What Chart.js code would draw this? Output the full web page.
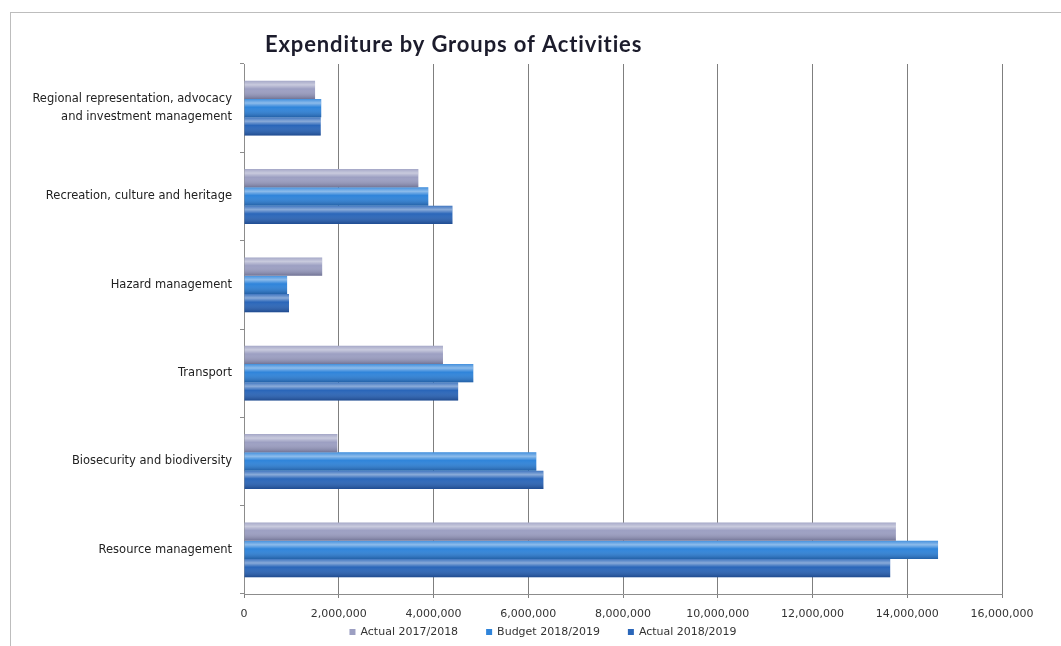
<!DOCTYPE html>
<html>
<head>
<meta charset="utf-8">
<script src="https://cdn.jsdelivr.net/npm/chart.js@4.4.1/dist/chart.umd.min.js"></script>
<style>
  html, body { margin: 0; padding: 0; background: #fff; }
  #wrap { position: relative; width: 1061px; height: 646px; overflow: hidden; }
  #frame { position: absolute; left: 10px; top: 12px; width: 1100px; height: 700px;
           border-top: 1px solid #bdbdbd; border-left: 1px solid #bdbdbd; }
  canvas { position: absolute; left: 0; top: 0; }
</style>
</head>
<body>
<div id="wrap">
  <div id="frame"></div>
  <canvas id="chart" width="1061" height="646"></canvas>
</div>
<script>
const title = 'Expenditure by Groups of Activities';

const categories = [
    ['Regional representation, advocacy', 'and investment management'],
    'Recreation, culture and heritage',
    'Hazard management',
    'Transport',
    'Biosecurity and biodiversity',
    'Resource management'
];

const seriesNames = ['Actual 2017/2018', 'Budget 2018/2019', 'Actual 2018/2019'];

const actual2017 = [1500000, 3680000, 1650000, 4200000, 1970000, 13760000];
const budget2018 = [1630000, 3890000, 910000, 4840000, 6170000, 14650000];
const actual2018 = [1620000, 4400000, 950000, 4520000, 6320000, 13640000];

const xTicks = [0, 2000000, 4000000, 6000000, 8000000, 10000000, 12000000, 14000000, 16000000];

const colors = ['#9c9fc2', '#2f84da', '#2a66b9'];

const FONT = '"DejaVu Sans", sans-serif';

// cylinder-ish shading on top of each bar, like the Excel 2007 style
const barShade = {
    id: 'barShade',
    afterDatasetsDraw(chart) {
        const ctx = chart.ctx;
        chart.data.datasets.forEach((ds, i) => {
            chart.getDatasetMeta(i).data.forEach(bar => {
                const h = bar.height;
                const top = bar.y - h / 2;
                const x0 = Math.min(bar.x, bar.base);
                const w = Math.abs(bar.x - bar.base);
                const g = ctx.createLinearGradient(0, top, 0, top + h);
                g.addColorStop(0, 'rgba(255,255,255,0.10)');
                g.addColorStop(0.22, 'rgba(255,255,255,0.45)');
                g.addColorStop(0.45, 'rgba(255,255,255,0.0)');
                g.addColorStop(1, 'rgba(0,0,30,0.28)');
                ctx.save();
                ctx.fillStyle = g;
                ctx.fillRect(x0, top, w, h);
                ctx.restore();
            });
        });
    }
};

// title sits over the left part of the plot, not centred on the canvas
const titleText = {
    id: 'titleText',
    afterDraw(chart) {
        const ctx = chart.ctx;
        ctx.save();
        ctx.font = 'bold 22px Lato, "Open Sans", sans-serif';
        const w = ctx.measureText(title).width;
        ctx.letterSpacing = Math.max(0, (378 - w) / title.length).toFixed(2) + 'px';
        ctx.fillStyle = '#1c1c2c';
        ctx.textAlign = 'left';
        ctx.textBaseline = 'middle';
        ctx.fillText(title, 265, 45);
        ctx.restore();
    }
};

// Excel-style legend row under the axis, wider spacing than the built-in one allows
const legendRow = {
    id: 'legendRow',
    afterDraw(chart) {
        const ctx = chart.ctx;
        const box = 6, gapText = 5, gapItem = 28, y = 632;
        ctx.save();
        ctx.font = '11px ' + FONT;
        ctx.textBaseline = 'middle';
        ctx.textAlign = 'left';
        const items = chart.data.datasets.map(ds => ({
            text: ds.label, color: ds.backgroundColor,
            w: box + gapText + ctx.measureText(ds.label).width
        }));
        const total = items.reduce((s, it) => s + it.w, 0) + gapItem * (items.length - 1);
        let x = 543 - total / 2;
        items.forEach(it => {
            ctx.fillStyle = it.color;
            ctx.fillRect(x, y - box / 2, box, box);
            ctx.fillStyle = '#333';
            ctx.fillText(it.text, x + box + gapText, y);
            x += it.w + gapItem;
        });
        ctx.restore();
    }
};

new Chart(document.getElementById('chart'), {
    type: 'bar',
    data: {
        labels: categories,
        datasets: [actual2017, budget2018, actual2018].map((d, i) => ({
            label: seriesNames[i],
            data: d,
            backgroundColor: colors[i],
            borderWidth: 0,
            categoryPercentage: 0.62,
            barPercentage: 1.0
        }))
    },
    options: {
        indexAxis: 'y',
        responsive: false,
        animation: false,
        layout: { padding: { left: 0, right: 59, top: 64, bottom: 24 } },
        scales: {
            x: {
                min: 0,
                max: 16000000,
                afterBuildTicks(scale) {
                    scale.ticks = xTicks.map(v => ({ value: v }));
                },
                afterFit(scale) { scale.height = 28; },
                grid: { color: '#7f7f7f', lineWidth: 1, tickLength: 4 },
                border: { color: '#8c8c8c' },
                ticks: {
                    color: '#333',
                    font: { family: FONT, size: 11 },
                    padding: 10,
                    maxRotation: 0,
                    callback: v => v.toLocaleString('en-US')
                }
            },
            y: {
                afterFit(scale) { scale.width = 244; },
                grid: { drawOnChartArea: false, color: '#8c8c8c', tickLength: 4 },
                border: { color: '#8c8c8c' },
                ticks: {
                    color: '#222',
                    font: { family: FONT, size: 11.5, lineHeight: 1.55 },
                    padding: 8
                }
            }
        },
        plugins: {
            title: { display: false },
            legend: { display: false },
            tooltip: { enabled: false }
        }
    },
    plugins: [barShade, titleText, legendRow]
});
</script>
</body>
</html>
